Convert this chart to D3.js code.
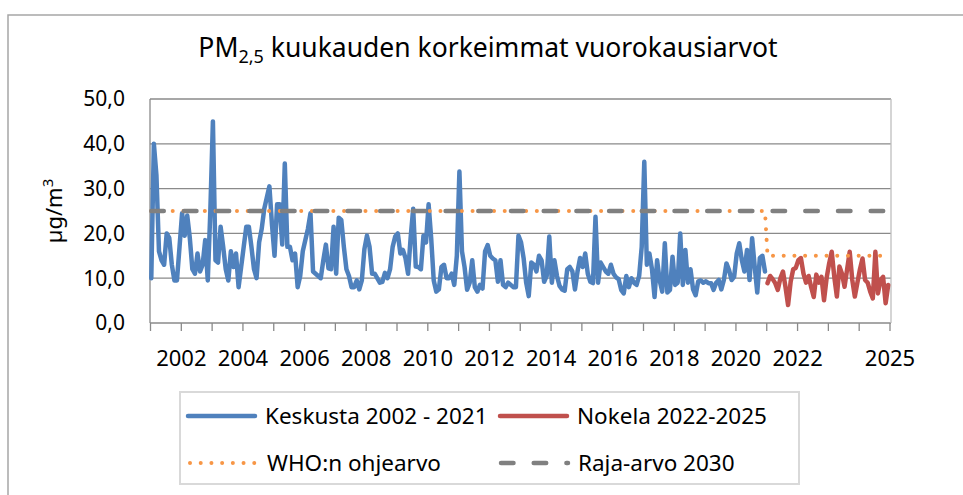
<!DOCTYPE html>
<html>
<head>
<meta charset="utf-8">
<script src="https://cdn.jsdelivr.net/npm/d3@7"></script>
<style>
body { margin: 0; background: #fff; }
text { font-family: "Noto Sans", sans-serif; fill: #000; }
</style>
</head>
<body>
<div id="chart"></div>
<script>
// monthly maxima of daily PM2.5 values, Keskusta (one value per month)
var keskusta = [
  10, 40, 33, 16, 14, 13, 20, 19, 13, 9.5,
  9.5, 17, 24.5, 19.5, 24, 19, 12, 11, 15.5, 11.5,
  13, 18.5, 9.5, 25, 45, 14, 13.5, 21.5, 17, 12,
  9.5, 16, 12.5, 15.5, 8, 12.5, 17, 21.5, 21.5, 17,
  12, 10, 18, 21, 25.5, 28, 30.5, 22, 15, 26.5,
  26.5, 17.5, 35.6, 17, 17, 14, 15.5, 8, 10.5, 16,
  18.5, 21, 24.5, 11.5, 11, 10.5, 10, 14, 17.5, 12.2,
  12, 21.5, 11, 23.5, 23, 17, 12, 10.5, 8, 8,
  9.5, 7.5, 9.5, 16.5, 19.5, 17, 11, 11, 10, 9,
  9.2, 11.2, 10, 12, 17, 19.3, 20, 15.5, 16.3, 14.5,
  11, 19, 25.5, 12.6, 12.5, 12, 19.5, 18, 26.5, 19,
  9.5, 7, 7.5, 12.5, 13, 10, 10, 11, 8.5, 15,
  33.8, 16, 12.5, 7.4, 9, 14, 8, 7, 8.5, 7.7,
  16, 17.4, 15, 14.4, 14, 9.2, 14, 8.5, 8, 9,
  8.5, 8, 8, 19.5, 18, 14.5, 9, 6, 13.5, 13,
  11.5, 15, 14, 9.2, 10.5, 19.3, 9, 14, 10.5, 8.3,
  7.5, 7.2, 12, 12.5, 11.5, 7.5, 11.5, 14.5, 12.5, 15.5,
  11, 9.2, 8.9, 23.7, 9, 13.5, 12.5, 11.5, 11, 13,
  11, 10.2, 9.8, 7.4, 6.6, 10.5, 8, 10, 9, 8.5,
  10.5, 17, 36, 13, 15.5, 12, 5.8, 14, 9.5, 7,
  17.8, 6.8, 7.4, 14.8, 8.5, 9, 20, 8.5, 16.3, 9,
  12, 7.5, 6.2, 9.3, 9.5, 9, 9.3, 8.9, 8.9, 7.4,
  9, 9.6, 7.5, 9.6, 13.3, 11.8, 9.6, 10.3, 15.5, 17.8,
  14, 11.5, 16.3, 9.6, 18.9, 12.6, 6.8, 14.5, 15, 11.5
];

// Nokela, follows directly after Keskusta on the month axis
var nokela = [
  8.9, 10.5, 9.8, 8.9, 7.4, 10, 11.5, 8, 4, 9.2,
  12, 12.3, 14, 14.5, 11, 9, 10.5, 8, 5.8, 10.8,
  9, 10.3, 5.1, 10, 13.3, 15.9, 10.3, 5.9, 12.6, 11,
  8.1, 12, 15.9, 9.6, 5.9, 9, 12, 14.4, 9.6, 9,
  7, 5.5, 15.9, 6.6, 9.6, 10.3, 4.4, 8.5
];
var nokelaStart = keskusta.length;
var monthCount = keskusta.length + nokela.length;

// limit lines as [month, value] corner points
var whoLimit = [[0, 25], [239, 25], [240, 15], [284, 15]];
var rajaLimit = [[0, 25], [287, 25]];

var yTicks = [0, 10, 20, 30, 40, 50];
var yearLabels = [2002, 2004, 2006, 2008, 2010, 2012, 2014, 2016, 2018, 2020, 2022, 2025];
var firstTickYear = 2001;

var width = 963, height = 495;
var plotLeft = 150, plotRight = 891, plotTop = 99, plotBottom = 323;

var svg = d3.select("#chart").append("svg")
    .attr("width", width)
    .attr("height", height);

//outer frame (cut by the picture at right and bottom)
svg.append("rect")
    .attr("x", 8)
    .attr("y", 15)
    .attr("width", width + 20)
    .attr("height", height + 20)
    .attr("fill", "none")
    .attr("stroke", "#a6a6a6")
    .attr("stroke-width", 1.5);

var x = d3.scaleLinear().domain([0, monthCount]).range([plotLeft, 889.5]);
var y = d3.scaleLinear().domain([0, 50]).range([plotBottom, plotTop]);

// grid lines
svg.append("g").selectAll("line")
    .data(yTicks)
    .enter().append("line")
    .attr("x1", plotLeft)
    .attr("x2", plotRight)
    .attr("y1", function(d) { return y(d); })
    .attr("y2", function(d) { return y(d); })
    .attr("stroke", "#8a8a8a")
    .attr("stroke-width", 1.3);

// plot area right edge and y axis line
svg.append("line")
    .attr("x1", plotRight).attr("x2", plotRight)
    .attr("y1", y(50)).attr("y2", y(0))
    .attr("stroke", "#bfbfbf")
    .attr("stroke-width", 1.3);
svg.append("line")
    .attr("x1", plotLeft).attr("x2", plotLeft)
    .attr("y1", y(50)).attr("y2", y(0))
    .attr("stroke", "#8a8a8a")
    .attr("stroke-width", 1.3);

// y labels
svg.append("g").selectAll("text")
    .data(yTicks)
    .enter().append("text")
    .attr("x", 125)
    .attr("y", function(d) { return y(d); })
    .attr("dy", "0.35em")
    .attr("text-anchor", "end")
    .attr("font-size", 21)
    .text(function(d) { return d3.format(".1f")(d).replace(".", ","); });

// x axis, one tick per year
var labelAt = {};
yearLabels.forEach(function(yr) { labelAt[(yr - firstTickYear) * 12] = yr; });

var xAxis = d3.axisBottom(x)
    .tickValues(d3.range(0, monthCount + 1, 12))
    .tickSize(8)
    .tickPadding(19)
    .tickFormat(function(d) { return labelAt[d] !== undefined ? labelAt[d] : ""; });

var gx = svg.append("g")
    .attr("transform", "translate(0," + plotBottom + ")")
    .call(xAxis);
gx.select(".domain").remove();
gx.selectAll(".tick line").attr("stroke", "#8a8a8a").attr("stroke-width", 1.3);
gx.selectAll(".tick text")
    .attr("font-family", "Noto Sans, sans-serif")
    .attr("font-size", 22)
    .attr("fill", "#000");

// series
var line = d3.line()
    .x(function(d) { return x(d[0] + 0.5); })
    .y(function(d) { return y(d[1]); });

svg.append("path")
    .datum(keskusta.map(function(v, i) { return [i, v]; }))
    .attr("d", line)
    .attr("fill", "none")
    .attr("stroke", "#4f81bd")
    .attr("stroke-width", 4.5)
    .attr("stroke-linejoin", "round")
    .attr("stroke-linecap", "round");

svg.append("path")
    .datum(nokela.map(function(v, i) { return [nokelaStart + i, v]; }))
    .attr("d", line)
    .attr("fill", "none")
    .attr("stroke", "#c0504d")
    .attr("stroke-width", 4.5)
    .attr("stroke-linejoin", "round")
    .attr("stroke-linecap", "round");

svg.append("path")
    .datum(whoLimit)
    .attr("d", line)
    .attr("fill", "none")
    .attr("stroke", "#f79646")
    .attr("stroke-width", 4)
    .attr("stroke-linecap", "round")
    .attr("stroke-dasharray", "0.01,10.7");

svg.append("path")
    .datum(rajaLimit)
    .attr("d", line)
    .attr("fill", "none")
    .attr("stroke", "#808080")
    .attr("stroke-width", 4.5)
    .attr("stroke-linecap", "round")
    .attr("stroke-dasharray", "12.5,20.2");

// title
var title = svg.append("text")
    .attr("x", 488)
    .attr("y", 57)
    .attr("text-anchor", "middle")
    .attr("font-size", 26.5);
title.append("tspan").text("PM");
title.append("tspan").attr("font-size", 18).attr("dy", 6).text("2,5");
title.append("tspan").attr("dy", -6).text(" kuukauden korkeimmat vuorokausiarvot");

// y axis title
var yTitle = svg.append("text")
    .attr("transform", "translate(62,211) rotate(-90)")
    .attr("text-anchor", "middle")
    .attr("font-size", 22);
yTitle.append("tspan").text("µg/m");
yTitle.append("tspan").attr("font-size", 15).attr("dy", -9).text("3");

// legend
svg.append("rect")
    .attr("x", 180)
    .attr("y", 392)
    .attr("width", 619)
    .attr("height", 92)
    .attr("fill", "none")
    .attr("stroke", "#d9d9d9")
    .attr("stroke-width", 2);

var legendItems = [
  {name: "Keskusta 2002 - 2021", x: 188, y: 416, color: "#4f81bd", w: 4.5, dash: null},
  {name: "Nokela 2022-2025", x: 500, y: 416, color: "#c0504d", w: 4.5, dash: null},
  {name: "WHO:n ohjearvo", x: 190, y: 463, color: "#f79646", w: 4, dash: "0.01,10.7"},
  {name: "Raja-arvo 2030", x: 501, y: 463, color: "#808080", w: 4.5, dash: "12.5,20.2"}
];

var lg = svg.append("g").selectAll("g")
    .data(legendItems)
    .enter().append("g");

lg.append("line")
    .attr("x1", function(d) { return d.x; })
    .attr("x2", function(d) { return d.x + 67; })
    .attr("y1", function(d) { return d.y; })
    .attr("y2", function(d) { return d.y; })
    .attr("stroke", function(d) { return d.color; })
    .attr("stroke-width", function(d) { return d.w; })
    .attr("stroke-linecap", "round")
    .attr("stroke-dasharray", function(d) { return d.dash; });

lg.append("text")
    .attr("x", function(d) { return d.x + 77; })
    .attr("y", function(d) { return d.y; })
    .attr("dy", "0.35em")
    .attr("font-size", 22.5)
    .text(function(d) { return d.name; });
</script>
</body>
</html>
